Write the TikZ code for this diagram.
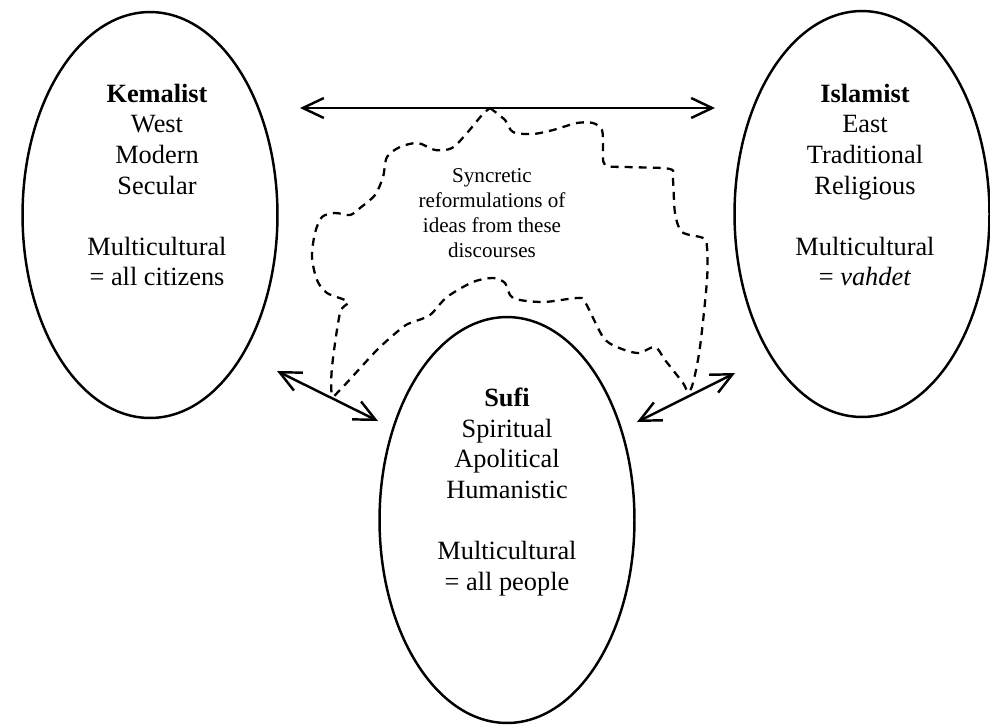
\documentclass[tikz,border=0pt]{standalone}
\usepackage{fontspec}
\setmainfont{Liberation Serif}
\usetikzlibrary{arrows.meta,shapes.geometric}
\begin{document}
\begin{tikzpicture}[x=0.02cm,y=-0.02cm,
    oval/.style={draw,ellipse,line width=1.4pt,minimum width=5.1cm,minimum height=8.12cm,inner sep=0pt},
    txt/.style={align=center,font=\fontsize{15}{17.4}\selectfont},
    link/.style={line width=1.4pt,{Straight Barb[length=4.2mm,width=4mm]}-{Straight Barb[length=4.2mm,width=4mm]}},
    cloud/.style={line width=1.3pt,dash pattern=on 4.5pt off 3.5pt}]
    \useasboundingbox (0,0) rectangle (990,725);
    \begin{scope}
      \node[oval](K) at (150,215){};
      \node[oval](I) at (862,214){};
      \node[oval](S) at (507,520){};
      \node[txt](Kt) at (157,185){\textbf{Kemalist}\\West\\Modern\\Secular\\[17.4pt]Multicultural\\= all citizens};
      \node[txt](It) at (865,185){\textbf{Islamist}\\East\\Traditional\\Religious\\[17.4pt]Multicultural\\= \textit{vahdet}};
      \node[txt](St) at (507,492){\textbf{Sufi}\\Spiritual\\Apolitical\\Humanistic\\[17.4pt]Multicultural\\= all people};
    \end{scope}
    \begin{scope}
      \coordinate(A0) at (300,108);
      \coordinate(A1) at (715,108);
      \coordinate(B0) at (277,371);
      \coordinate(B1) at (378,421);
      \coordinate(C0) at (637,422);
      \coordinate(C1) at (735,373);
      \foreach \p/\q in {A0/A1,B0/B1,C0/C1}{
        \draw[link](\p)--(\q);
      }
      % dashed area of the mixed ideas
      \draw[cloud] plot[smooth,tension=0.5] coordinates{(490,108) (505,120) (513,132) (533,134) (553,130)
        (577,123) (593,123) (602,130) (603,147) (605,165) (627,167) (670,169) (673,180) (675,213)
        (682,232) (703,238) (707,247) (707,280) (700,347) (693,383) (688,392) (683,383) (665,360)
        (655,347) (638,353) (617,347) (603,337) (585,302) (577,298) (543,302) (513,298) (505,283)
        (493,278) (473,282) (447,297) (430,315) (413,322) (403,327) (377,350) (340,390) (332,395)
        (332,367) (340,313) (348,302) (327,293) (317,280) (312,257) (315,233) (322,217) (335,213)
        (350,215) (360,208) (375,195) (383,177) (387,157) (400,147) (418,143) (435,150) (452,148)
        (467,133) (482,115) (490,108)};
      \node[align=center,font=\fontsize{12}{14.2}\selectfont](syn) at (492,213){Syncretic\\reformulations of\\ideas from these\\discourses};
    \end{scope}
  \end{tikzpicture}
\end{document}
